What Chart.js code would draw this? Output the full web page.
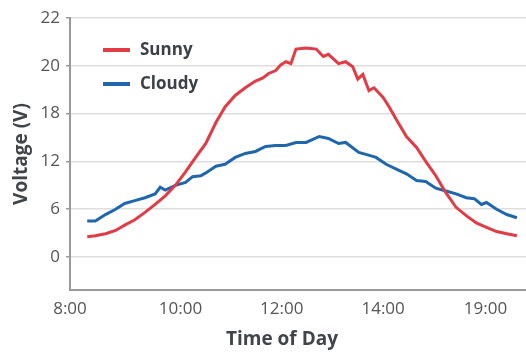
<!DOCTYPE html>
<html>
<head>
<meta charset="utf-8">
<script src="https://cdn.jsdelivr.net/npm/chart.js@4.4.0/dist/chart.umd.min.js"></script>
<style>
  html, body { margin: 0; padding: 0; background: #fff; }
</style>
</head>
<body>
<canvas id="myChart" width="526" height="353"></canvas>
<script>
// axis labels (the original axes are not evenly scaled, so positions are kept by index)
var xTickLabels = ["8:00", "10:00", "12:00", "14:00", "19:00"];
var xTickPos = [0, 1.09, 2.09, 3.09, 4.1];
var yTickLabels = [0, 6, 12, 18, 20, 22];

// position along the time axis
var sunnyPos = [0.17,0.25,0.35,0.45,0.54,0.64,0.74,0.84,0.94,1.04,1.14,1.24,1.34,1.44,1.53,1.63,1.73,1.83,1.90,1.96,2.03,2.08,2.13,2.18,2.23,2.33,2.43,2.50,2.55,2.65,2.72,2.79,2.84,2.89,2.95,3.00,3.09,3.15,3.22,3.32,3.42,3.51,3.61,3.71,3.81,3.91,4.01,4.11,4.21,4.31,4.41];
var sunnyVolts = [2.53,2.67,2.93,3.33,4.0,4.67,5.6,6.6,7.68,9.0,10.68,12.5,14.25,16.88,18.28,18.76,19.08,19.36,19.48,19.68,19.8,20.04,20.17,20.09,20.70,20.74,20.70,20.39,20.48,20.09,20.17,19.96,19.44,19.64,18.96,19.08,18.68,18.28,17.25,15.13,13.75,12.0,10.2,8.04,6.24,5.2,4.27,3.73,3.2,2.93,2.67];

var cloudyPos = [0.17,0.25,0.35,0.45,0.54,0.64,0.74,0.84,0.89,0.94,1.04,1.14,1.21,1.29,1.34,1.44,1.53,1.63,1.73,1.83,1.93,2.03,2.13,2.23,2.33,2.46,2.55,2.65,2.72,2.85,2.92,3.02,3.12,3.22,3.32,3.42,3.51,3.61,3.71,3.81,3.91,3.99,4.06,4.11,4.21,4.31,4.41];
var cloudyVolts = [4.53,4.53,5.33,6.0,6.72,7.08,7.44,7.92,8.76,8.4,9.0,9.36,10.08,10.2,10.56,11.4,11.64,12.5,13.0,13.25,13.88,14.0,14.0,14.38,14.38,15.13,14.88,14.25,14.38,13.13,12.88,12.5,11.64,11.04,10.44,9.6,9.48,8.64,8.28,7.92,7.44,7.32,6.6,6.84,6.0,5.33,4.93];

var xTitle = "Time of Day";

// volts -> position on the unevenly labelled y axis
function voltIndex(v) {
  for (var i = 0; i < yTickLabels.length - 1; i++) {
    if (v <= yTickLabels[i + 1] || i == yTickLabels.length - 2) {
      return i + (v - yTickLabels[i]) / (yTickLabels[i + 1] - yTickLabels[i]);
    }
  }
}
function toPoints(xs, vs) {
  return xs.map(function (x, i) { return {x: x, y: voltIndex(vs[i])}; });
}

// legend drawn inside the plot, top left, and the x title (sits a bit left of centre)
var extras = {
  id: "extras",
  afterDatasetsDraw: function (chart) {
    var ctx = chart.ctx, area = chart.chartArea;
    ctx.save();
    chart.data.datasets.forEach(function (ds, i) {
      var y = area.top + 32 + i * 34;
      ctx.strokeStyle = ds.borderColor;
      ctx.lineWidth = 4;
      ctx.beginPath();
      ctx.moveTo(area.left + 33, y);
      ctx.lineTo(area.left + 60, y);
      ctx.stroke();
      ctx.fillStyle = "#3d4147";
      ctx.font = "bold 17px 'Open Sans'";
      ctx.textBaseline = "middle";
      ctx.fillText(ds.label, area.left + 70, y);
    });
    ctx.fillStyle = "#41454a";
    ctx.font = "bold 19px 'Open Sans'";
    ctx.textAlign = "center";
    ctx.textBaseline = "middle";
    ctx.fillText(xTitle, area.left + 212, area.bottom + 50);
    ctx.restore();
  }
};

new Chart("myChart", {
  type: "line",
  data: {
    datasets: [{
      label: "Sunny",
      data: toPoints(sunnyPos, sunnyVolts),
      borderColor: "#e13b45",
      borderWidth: 3,
      pointRadius: 0,
      fill: false
    }, {
      label: "Cloudy",
      data: toPoints(cloudyPos, cloudyVolts),
      borderColor: "#1f66ad",
      borderWidth: 3,
      pointRadius: 0,
      fill: false
    }]
  },
  options: {
    responsive: false,
    animation: false,
    devicePixelRatio: 1,
    layout: {padding: {top: 18, right: 0, left: 0, bottom: 0}},
    plugins: {
      legend: {display: false},
      tooltip: {enabled: false}
    },
    scales: {
      x: {
        type: "linear",
        min: 0,
        max: 4.5,
        afterBuildTicks: function (scale) {
          scale.ticks = xTickPos.map(function (p) { return {value: p}; });
        },
        afterFit: function (scale) { scale.height = 63; },
        ticks: {
          padding: 1,
          color: "#555",
          font: {family: "'Open Sans'", size: 17},
          maxRotation: 0,
          callback: function (value) {
            var i = xTickPos.indexOf(value);
            return i >= 0 ? xTickLabels[i] : "";
          }
        },
        grid: {display: false},
        border: {display: true, color: "#9a9a9a", width: 2}
      },
      y: {
        type: "linear",
        min: -0.69,
        max: 5,
        afterBuildTicks: function (scale) {
          scale.ticks = yTickLabels.map(function (_, i) { return {value: i}; });
        },
        afterFit: function (scale) { scale.width = 70; },
        ticks: {
          padding: 6,
          color: "#555",
          font: {family: "'Open Sans'", size: 17},
          callback: function (value) { return yTickLabels[value]; }
        },
        grid: {color: "#dedede", lineWidth: 1.5, tickLength: 4, tickColor: "#9a9a9a"},
        border: {display: true, color: "#9a9a9a", width: 2},
        title: {
          display: true,
          text: "Voltage (V)",
          color: "#41454a",
          font: {family: "'Open Sans'", size: 19, weight: "bold"},
          padding: {top: 10, bottom: 0}
        }
      }
    }
  },
  plugins: [extras]
});
</script>
</body>
</html>
